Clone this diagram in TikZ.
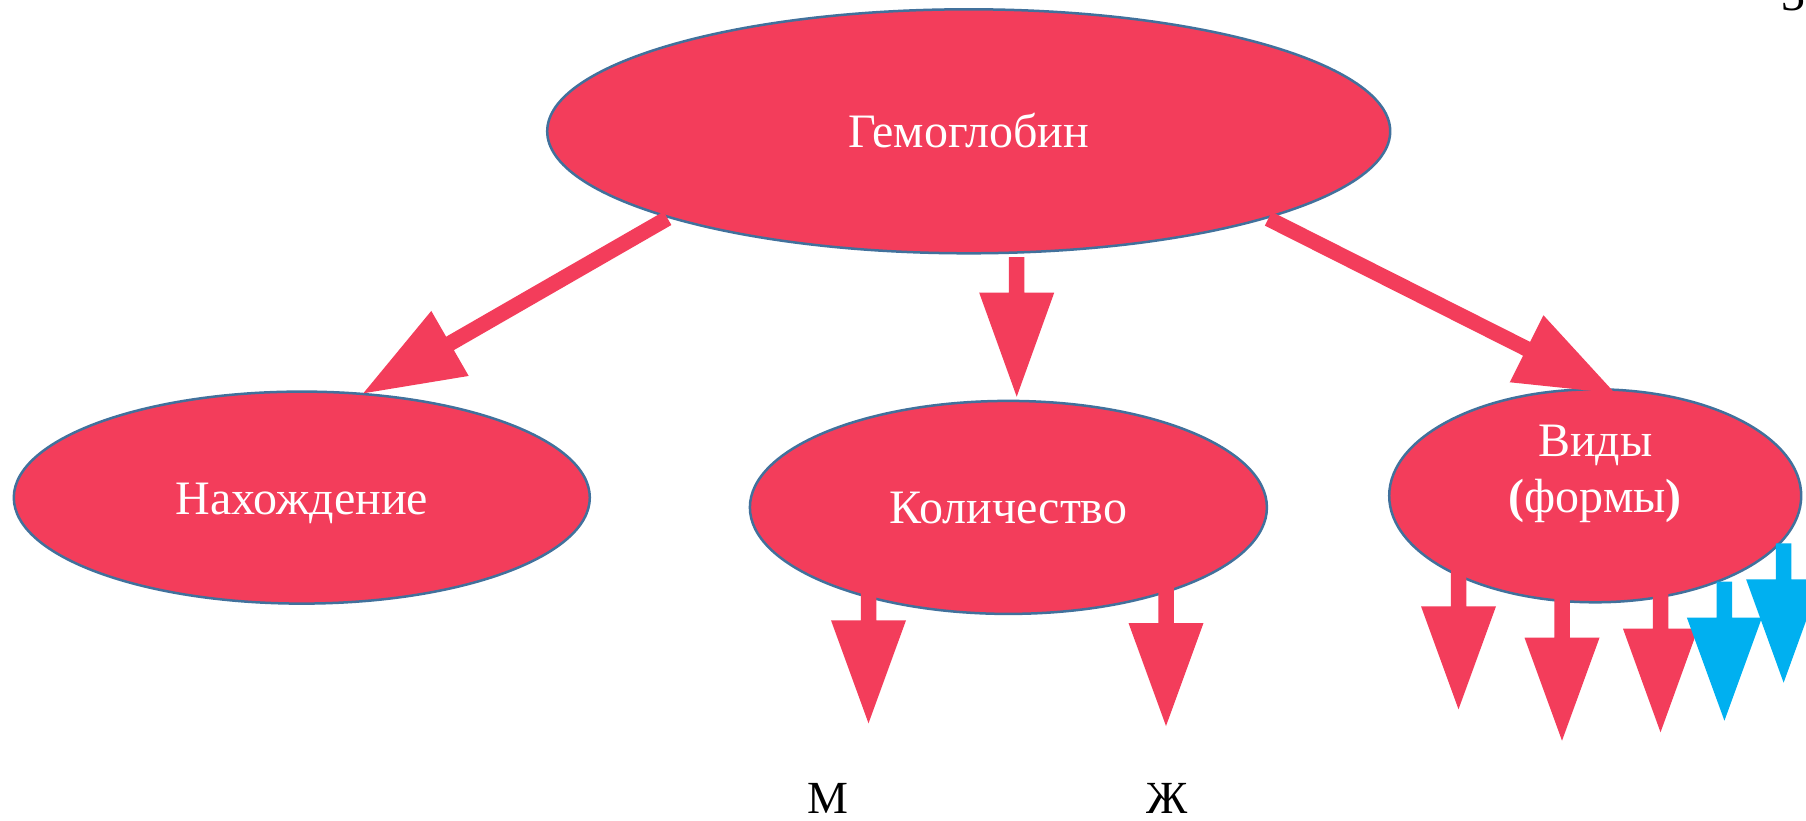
\documentclass[tikz,border=0pt]{standalone}
\usepackage{fontspec}
\setmainfont{Liberation Serif}
\usetikzlibrary{calc,shapes.geometric}
\definecolor{arrowred}{RGB}{243,61,91}
\definecolor{ellred}{RGB}{243,61,91}
\definecolor{edgeblue}{RGB}{65,113,156}
\definecolor{arrowblue}{RGB}{0,176,240}
% block arrow: #1 colour, #2 start, #3 tip, #4 head length
\newcommand\blockarrow[4]{%
  \path ($(#3)!#4!(#2)$) coordinate (bb);
  \fill[#1] ($(#2)!7.75pt!90:(#3)$) -- ($(bb)!7.75pt!90:(#3)$) -- ($(bb)!37.5pt!90:(#3)$)
    -- (#3) -- ($(bb)!37.5pt!-90:(#3)$) -- ($(bb)!7.75pt!-90:(#3)$) -- ($(#2)!7.75pt!-90:(#3)$) -- cycle;}
\tikzset{
  ell/.style={ellipse, fill=ellred, draw=edgeblue, line width=2.5pt, inner sep=0pt,
    text=white, font=\fontsize{48pt}{56pt}\selectfont, text height=33pt, text depth=0pt, align=center},
  lbl/.style={text=black, font=\fontsize{46pt}{54pt}\selectfont, inner sep=0pt, anchor=base}
}
\begin{document}
\begin{tikzpicture}[x=1pt,y=-1pt]
\useasboundingbox (0,0) rectangle (1806,821);
\fill[white] (0,0) rectangle (1806,821);
% nodes
\node[ell, minimum width=843pt, minimum height=244pt] (hb) at (968.7,131.3) {Гемоглобин};
\node[ell, minimum width=576pt, minimum height=212pt] (nah) at (301.8,497.6) {Нахождение};
\node[ell, minimum width=517pt, minimum height=213pt] (kol) at (1008.4,507.4) {Количество};
\node[ell, minimum width=412pt, minimum height=213pt] (vid) at (1595.2,495.8) {Виды\\\textbf{(}формы\textbf{)}};
\node[lbl] (m) at (828,813) {М};
\node[lbl] (zh) at (1167,813) {Ж};
\node[lbl, font=\fontsize{48pt}{56pt}\selectfont] (num) at (1793,11) {3};
% connector ends
\coordinate (a1s) at (667.5,218.3);  \coordinate (a1t) at (363.3,393.3);
\coordinate (a2s) at (1268.3,218.7); \coordinate (a2t) at (1615,393.3);
\coordinate (a3s) at (1016.7,257);   \coordinate (a3t) at (1016.7,396.7);
\coordinate (k1s) at (868.5,585);    \coordinate (k1t) at (868.5,723.3);
\coordinate (k2s) at (1166,585);     \coordinate (k2t) at (1166,726);
\coordinate (v1s) at (1458.5,560);   \coordinate (v1t) at (1458.5,709.3);
\coordinate (v2s) at (1562,595);     \coordinate (v2t) at (1562,740.7);
\coordinate (v3s) at (1660.5,590);   \coordinate (v3t) at (1660.5,732.3);
\coordinate (b1s) at (1724.4,581.7); \coordinate (b1t) at (1724.4,720.7);
\coordinate (b2s) at (1783.6,543.3); \coordinate (b2t) at (1783.6,682.7);
% arrows
\blockarrow{arrowred}{a1s}{a1t}{100pt}
\blockarrow{arrowred}{a2s}{a2t}{99pt}
\blockarrow{arrowred}{a3s}{a3t}{104pt}
\blockarrow{arrowred}{k1s}{k1t}{103pt}
\blockarrow{arrowred}{k2s}{k2t}{103pt}
\blockarrow{arrowred}{v1s}{v1t}{103pt}
\blockarrow{arrowred}{v2s}{v2t}{103pt}
\blockarrow{arrowred}{v3s}{v3t}{103.6pt}
\blockarrow{arrowblue}{b1s}{b1t}{103pt}
\blockarrow{arrowblue}{b2s}{b2t}{103.4pt}
\end{tikzpicture}
\end{document}
